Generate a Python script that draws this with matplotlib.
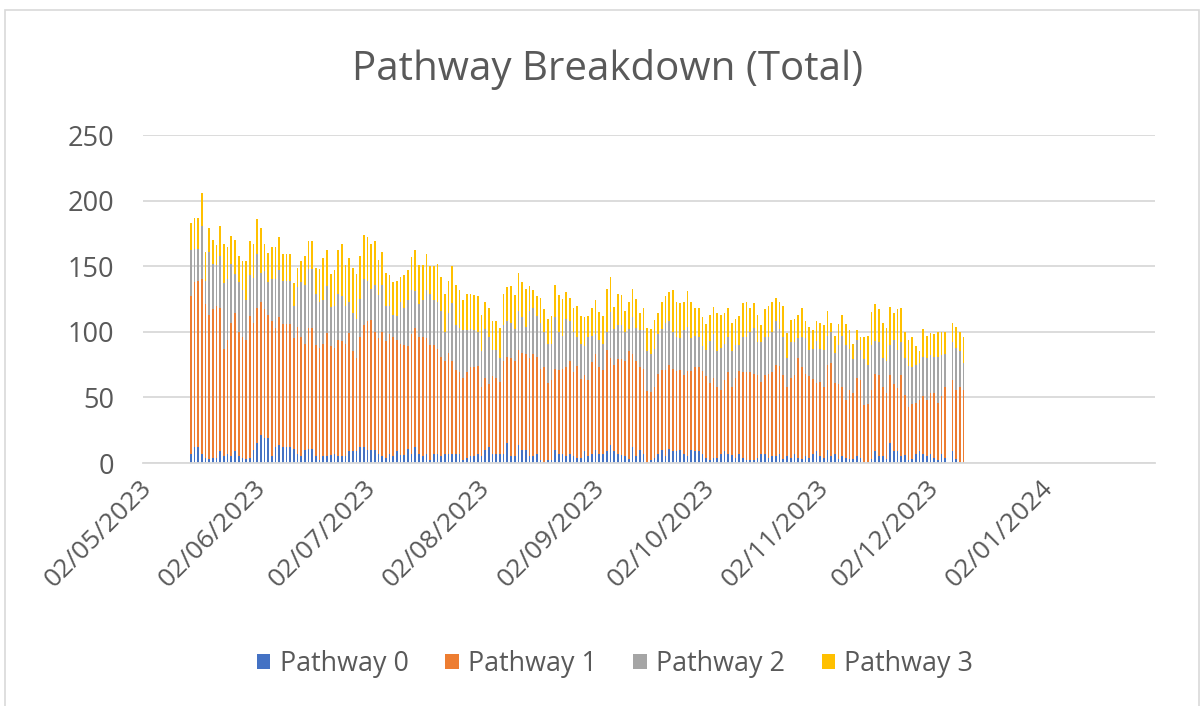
import numpy as np
import pandas as pd
import matplotlib
matplotlib.use("Agg")
import matplotlib.pyplot as plt
import matplotlib.dates as mdates
import matplotlib.transforms as mtransforms
from matplotlib.patches import Patch, Rectangle

# one bar per day, 15/05/2023 - 11/12/2023, no record on 07/12/2023
dates = pd.date_range("2023-05-15", "2023-12-11").drop(pd.Timestamp("2023-12-07"))

pathway0 = [7, 12, 12, 7, 4, 3, 4, 4, 9, 5, 7, 5, 9, 5, 4, 3, 4, 10,
            15, 21, 19, 19, 5, 12, 14, 12, 12, 12, 11, 7, 5, 10, 11, 11, 5, 2, 5, 5,
            6, 7, 5, 5, 5, 9, 9, 9, 12, 12, 10, 10, 10, 7, 5, 4, 7, 5, 9,
            6, 6, 11, 7, 12, 7, 5, 7, 2, 7, 7, 5, 7, 7, 7, 7, 7, 2, 4, 5,
            5, 7, 5, 10, 12, 7, 7, 7, 7, 15, 5, 5, 14, 10, 10, 5, 5, 7, 2, 1,
            2, 2, 10, 7, 7, 5, 7, 5, 4, 4, 9, 5, 7, 10, 7, 7, 9, 14, 9,
            7, 6, 5, 3, 12, 5, 10, 7, 1, 2, 4, 7, 10, 5, 11, 9, 9, 10, 7, 5,
            10, 9, 9, 7, 4, 2, 4, 4, 7, 9, 7, 6, 4, 7, 4, 2, 2, 2, 4,
            7, 7, 4, 5, 5, 7, 3, 5, 4, 7, 4, 3, 5, 4, 7, 9, 5, 4, 10, 5,
            7, 3, 5, 4, 3, 3, 5, 4, 1, 1, 3, 9, 5, 5, 3, 15, 9, 9, 5, 6,
            2, 3, 7, 9, 7, 5, 7, 4, 2, 7, 4,
            9, 3, 1, 1]
pathway1 = [120, 126, 127, 133, 117, 110, 113, 116, 109, 82, 87, 102, 105, 95, 92, 91, 108, 97,
            103, 102, 98, 94, 103, 91, 97, 94, 94, 94, 84, 97, 91, 81, 92, 92, 85, 86, 86, 94,
            83, 81, 89, 88, 86, 90, 76, 71, 84, 93, 98, 99, 90, 88, 95, 89, 91, 91, 85,
            85, 84, 78, 91, 91, 89, 91, 88, 88, 83, 80, 76, 71, 77, 71, 64, 62, 63, 65, 68,
            68, 67, 53, 55, 48, 59, 58, 55, 71, 66, 75, 73, 72, 74, 73, 75, 78, 74, 70, 72,
            59, 61, 62, 64, 65, 68, 71, 64, 70, 60, 58, 58, 70, 73, 66, 64, 77, 66, 66,
            72, 73, 73, 82, 71, 73, 63, 65, 54, 52, 54, 61, 61, 66, 64, 63, 61, 61, 60, 65,
            60, 64, 64, 63, 62, 59, 61, 54, 49, 54, 62, 52, 61, 63, 65, 67, 67, 66, 63,
            55, 60, 64, 64, 70, 67, 64, 53, 61, 60, 76, 70, 63, 62, 57, 52, 57, 54, 65, 71,
            54, 57, 53, 44, 53, 50, 60, 59, 43, 44, 53, 59, 62, 53, 50, 52, 51, 48, 62, 46,
            41, 42, 39, 39, 44, 43, 46, 49, 44, 44, 54,
            54, 53, 57, 55]
pathway2 = [35, 25, 24, 41, 18, 48, 35, 31, 40, 50, 46, 45, 30, 38, 36, 30, 31, 34,
            41, 22, 29, 25, 32, 37, 36, 33, 33, 33, 25, 30, 42, 45, 45, 45, 39, 35, 33, 36,
            30, 32, 35, 34, 29, 24, 29, 30, 29, 35, 31, 24, 36, 33, 36, 27, 22, 17, 18,
            32, 28, 35, 34, 28, 25, 28, 37, 39, 34, 36, 35, 22, 30, 44, 34, 34, 36, 32, 29,
            28, 26, 27, 37, 36, 20, 21, 18, 27, 27, 27, 24, 30, 27, 21, 36, 35, 31, 35, 27,
            30, 28, 39, 29, 25, 37, 30, 31, 22, 27, 22, 33, 20, 15, 21, 20, 14, 35, 27,
            26, 26, 22, 17, 28, 25, 28, 29, 30, 29, 29, 30, 31, 36, 33, 28, 26, 24, 34, 34,
            25, 24, 23, 19, 20, 32, 33, 27, 32, 28, 27, 27, 25, 20, 27, 27, 31, 35, 25,
            30, 29, 28, 31, 33, 28, 29, 22, 27, 25, 15, 23, 27, 20, 23, 32, 25, 28, 22, 24,
            23, 30, 39, 42, 31, 26, 29, 23, 35, 30, 34, 25, 25, 22, 25, 23, 34, 29, 25, 28,
            31, 28, 29, 28, 30, 32, 29, 28, 35, 31, 25,
            29, 32, 27, 20]
pathway3 = [21, 24, 24, 25, 22, 18, 18, 15, 23, 30, 25, 21, 26, 20, 22, 30, 26, 26,
            27, 34, 21, 22, 25, 25, 25, 20, 20, 20, 17, 15, 16, 22, 21, 21, 20, 25, 32, 27,
            25, 27, 33, 40, 31, 33, 35, 34, 33, 34, 33, 34, 33, 27, 25, 25, 23, 25, 27,
            19, 25, 23, 25, 31, 30, 27, 27, 21, 26, 29, 26, 29, 25, 28, 31, 29, 23, 28, 27,
            27, 27, 28, 21, 22, 22, 22, 23, 24, 26, 28, 26, 29, 27, 29, 19, 14, 15, 19, 17,
            19, 21, 25, 28, 28, 20, 18, 18, 24, 21, 22, 16, 21, 26, 21, 21, 33, 27, 17,
            24, 23, 16, 21, 22, 22, 13, 17, 18, 19, 22, 16, 21, 20, 22, 32, 27, 27, 22, 27,
            28, 21, 22, 22, 20, 20, 21, 29, 25, 23, 22, 22, 20, 22, 26, 27, 18, 19, 21,
            13, 21, 24, 23, 18, 21, 24, 19, 17, 18, 18, 22, 13, 18, 14, 15, 20, 19, 19, 7,
            13, 16, 16, 16, 14, 12, 7, 10, 17, 22, 25, 28, 25, 27, 25, 29, 20, 31, 26, 20,
            20, 23, 14, 9, 21, 17, 17, 17, 19, 18, 17,
            15, 16, 15, 20]

names = ["Pathway 0", "Pathway 1", "Pathway 2", "Pathway 3"]
colors = ["#4472C4", "#ED7D31", "#A5A5A5", "#FFC000"]
text_col = "#595959"
grid_col = "#D9D9D9"

plt.rcParams['font.family'] = ['Open Sans', 'DejaVu Sans']

fig = plt.figure(figsize=(12.04, 7.06), dpi=100)
# chart area border
fig.patches.append(Rectangle((5 / 1204, -0.01), 1194 / 1204, 1 - 10 / 706 + 0.01,
                             transform=fig.transFigure, fill=False,
                             edgecolor=grid_col, linewidth=1.2))

ax = fig.add_axes([143 / 1204, 1 - 463 / 706, (1155 - 143) / 1204, (463 - 135) / 706])

bottom = np.zeros(len(dates))
for vals, name, col in zip([pathway0, pathway1, pathway2, pathway3], names, colors):
    vals = np.array(vals, dtype=float)
    ax.bar(dates, vals, bottom=bottom, width=0.45, color=col, label=name, linewidth=0)
    bottom += vals

ax.set_ylim(0, 250)
ax.set_yticks(range(0, 251, 50))
ax.set_xlim(pd.Timestamp("2023-05-02"), pd.Timestamp("2024-02-01"))
ticks = pd.date_range("2023-05-01", "2024-01-01", freq="MS") + pd.Timedelta(days=1)
ax.set_xticks(ticks)
ax.xaxis.set_major_formatter(mdates.DateFormatter("%d/%m/%Y"))

ax.yaxis.grid(True, color=grid_col, linewidth=1.3)
ax.set_axisbelow(True)
for s in ["top", "right", "left"]:
    ax.spines[s].set_visible(False)
ax.spines["bottom"].set_color(grid_col)
ax.spines["bottom"].set_linewidth(1.3)

ax.tick_params(axis="y", length=0, pad=21, labelsize=19.5, labelcolor=text_col)
ax.tick_params(axis="x", length=0, pad=15, labelsize=19, labelcolor=text_col)
shift = mtransforms.ScaledTranslation(5 / 100, 0, fig.dpi_scale_trans)
for lab in ax.get_xticklabels():
    lab.set_rotation(45)
    lab.set_ha("right")
    lab.set_va("center")
    lab.set_rotation_mode("anchor")
    lab.set_transform(lab.get_transform() + shift)

fig.text(0.505, 1 - 69 / 706, "Pathway Breakdown (Total)", ha="center", va="center",
         fontsize=29, color=text_col)

handles = [Patch(facecolor=c, edgecolor="none") for c in colors]
fig.legend(handles, names, loc="center", bbox_to_anchor=(0.511, 1 - 664 / 706),
           ncol=4, frameon=False, fontsize=19.4, labelcolor=text_col,
           handlelength=0.5, handleheight=0.5, handletextpad=0.35, columnspacing=1.35)

fig.savefig("out.png", dpi=100)
